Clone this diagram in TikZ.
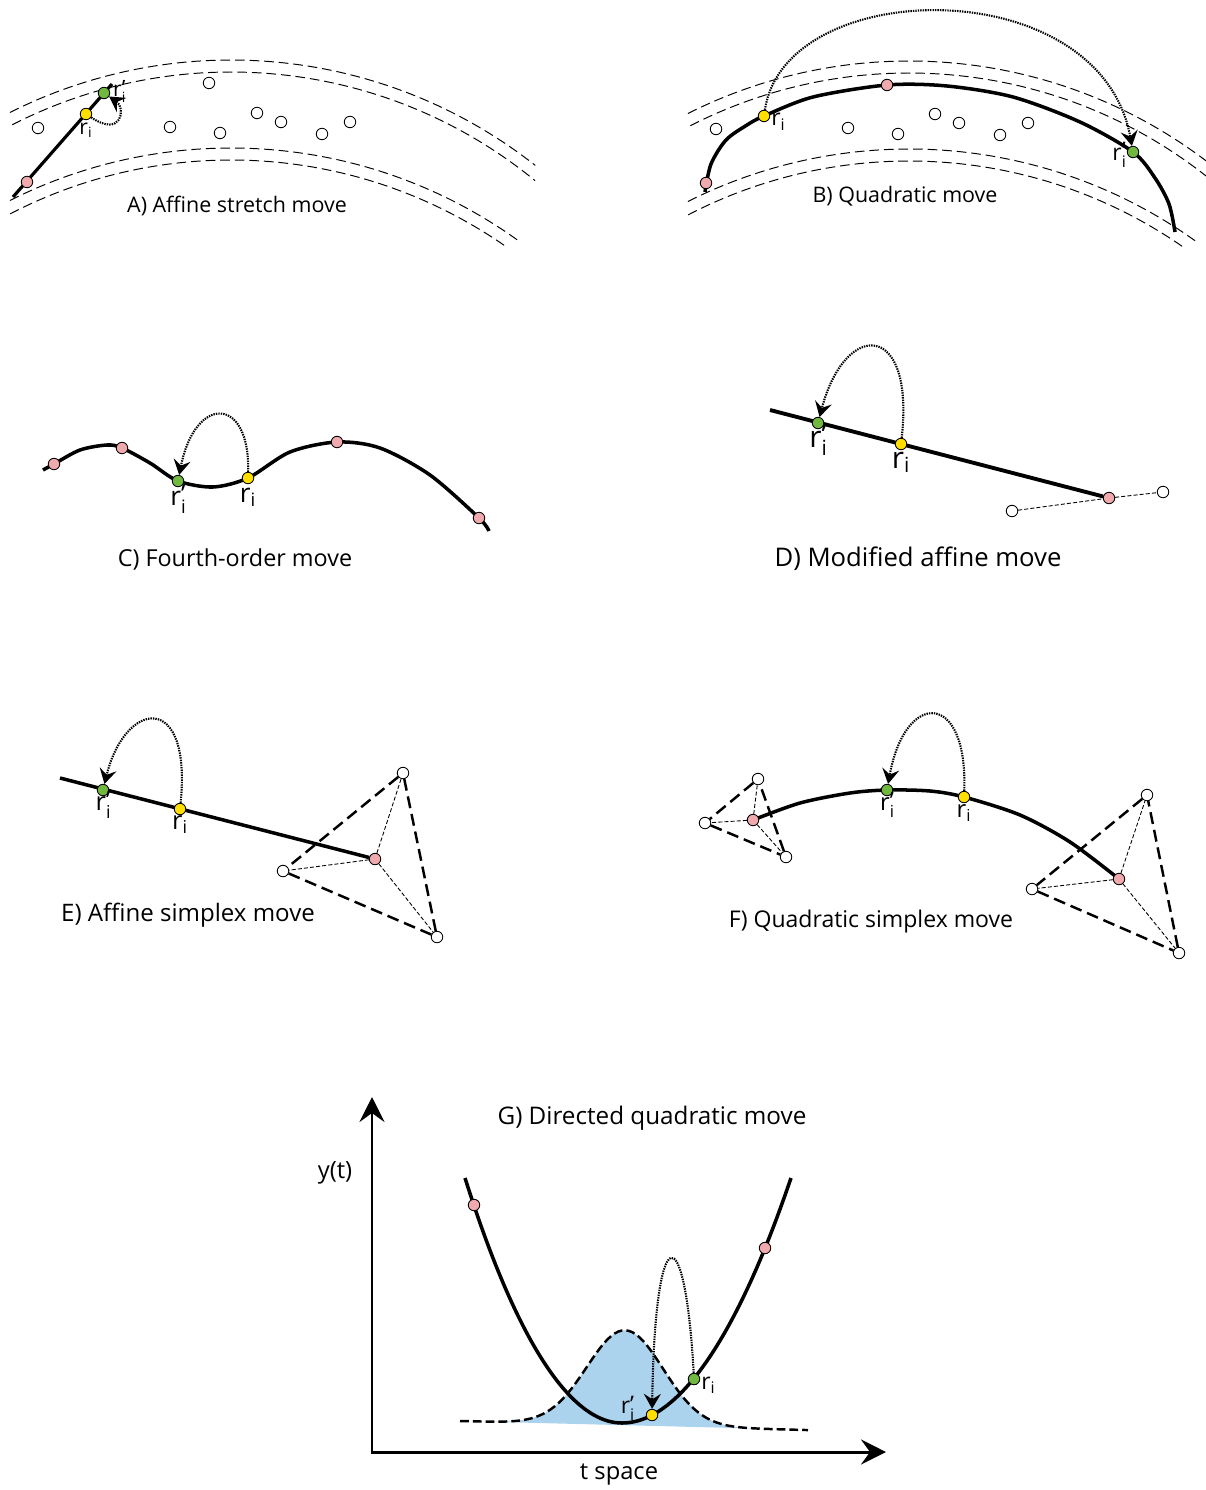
\documentclass[tikz,border=0pt]{standalone}
\usepackage{fontspec}
\setmainfont{Open Sans}
\usetikzlibrary{arrows.meta,positioning}
\definecolor{DotPink}{RGB}{240,170,174}
\definecolor{DotGreen}{RGB}{112,184,62}
\definecolor{DotYellow}{RGB}{255,222,0}
\definecolor{DensityBlue}{RGB}{172,211,238}
\newcommand{\ri}{r\textsubscript{i}}
\newcommand{\rip}{r\rlap{\raisebox{-0.12em}{\textsubscript{i}}}\raisebox{0.06em}{’}}
\tikzset{
  walker/.style={circle,draw=black,line width=0.5pt,inner sep=0pt,minimum size=0.23cm},
  opendot/.style={walker,fill=white},
  pinkdot/.style={walker,fill=DotPink},
  greendot/.style={walker,fill=DotGreen},
  yellowdot/.style={walker,fill=DotYellow},
  track/.style={line width=2pt},
  bandline/.style={line width=0.55pt,dash pattern=on 5.5pt off 2.8pt},
  simplexedge/.style={line width=1.4pt,dash pattern=on 6.8pt off 3.4pt},
  spoke/.style={line width=0.5pt,dash pattern=on 2.3pt off 1.2pt},
  bumpline/.style={line width=1.4pt,dash pattern=on 5pt off 2.3pt},
  jump/.style={line width=1.2pt,dash pattern=on 0.8pt off 0.6pt,
    -{Stealth[length=3mm,width=3.4mm,inset=1.1mm]}},
  axis/.style={line width=1.7pt,
    {Stealth[length=5mm,width=5mm,inset=1.8mm]}-{Stealth[length=5mm,width=5mm,inset=1.8mm]}},
  caption/.style={font=\fontsize{#1}{#1}\selectfont,inner sep=0pt},
  rlabel/.style={font=\fontsize{#1}{#1}\selectfont,inner sep=0.5pt,
    text height=0.75em,text depth=0.3em},
}

\begin{document}
\begin{tikzpicture}[x=0.02cm,y=-0.02cm]
  \useasboundingbox (0,0) rectangle (1206,1490);

  % A and B: bands with the free walkers
  \foreach \dx/\dy in {0/0,678/1}{
    \begin{scope}[shift={(\dx,\dy)}]
      \draw[bandline] plot[domain=-116.7:-51.8,samples=70] ({231+492*cos(\x)},{552+492*sin(\x)});
      \draw[bandline] plot[domain=-117.1:-50.7,samples=70] ({231+480*cos(\x)},{552+480*sin(\x)});
      \draw[bandline] plot[domain=-116.7:-54.0,samples=70] ({231+492*cos(\x)},{640+492*sin(\x)});
      \draw[bandline] plot[domain=-117.4:-54.9,samples=70] ({231+480*cos(\x)},{640+480*sin(\x)});
      \foreach \px/\py [count=\n] in {38/128,170/127,220/133,257/113,281/122,322/134,350/122}
        \node[opendot] (free\dx-\n) at (\px,\py) {};
    \end{scope}
  }

  % A) affine stretch
  \coordinate (aStart) at (13,197);
  \coordinate (aEnd) at (112,84);
  \draw[track,line width=1.8pt] (aStart) -- (aEnd);
  \node[pinkdot] (aFix) at (27,182) {};
  \node[yellowdot] (aOld) at (86,114) {};
  \node[greendot] (aNew) at (104,93) {};
  \node[opendot] (aFree) at (209,83) {};
  \draw[jump] (aOld) .. controls (122,138) and (126,108) .. (aNew);
  \node[rlabel=12,below=0pt of aOld] (aOldLbl) {\ri};
  \node[rlabel=12,right=1pt of aNew] (aNewLbl) {\rip};
  \node[caption=12.2] (aCap) at (237,206) {A) Affine stretch move};

  % B) quadratic
  \draw[track] plot[smooth] coordinates {(705,192) (711,164) (726,140) (747,125) (764,116)
    (813,97) (887,85) (947,86) (1013,97) (1080,122) (1133,152) (1155,178) (1169,204) (1175,232)};
  \node[pinkdot] (bFixL) at (706,183) {};
  \node[yellowdot] (bOld) at (764,116) {};
  \node[pinkdot] (bFixT) at (887,85) {};
  \node[greendot] (bNew) at (1133,152) {};
  \draw[jump] (bOld) .. controls (785,-25) and (1100,-30) .. (bNew);
  \node[rlabel=13,below right=-5pt and 1pt of bOld] (bOldLbl) {\ri};
  \node[rlabel=13,below left=-6pt and 1pt of bNew] (bNewLbl) {\rip};
  \node[caption=12.2] (bCap) at (905,196) {B) Quadratic move};

  % C) fourth-order
  \draw[track] plot[smooth] coordinates {(43,470) (54,464) (80,450) (107,445) (122,448)
    (150,463) (178,481) (213,487) (248,478) (290,452) (337,442) (380,448) (430,475) (479,518) (489,531)};
  \node[pinkdot] (cFix1) at (54,464) {};
  \node[pinkdot] (cFix2) at (122,448) {};
  \node[greendot] (cNew) at (178,481) {};
  \node[yellowdot] (cOld) at (248,478) {};
  \node[pinkdot] (cFix3) at (337,442) {};
  \node[pinkdot] (cFix4) at (479,518) {};
  \draw[jump] (cOld) .. controls (250,395) and (195,395) .. (cNew);
  \node[rlabel=15,below=2pt of cNew] (cNewLbl) {\rip};
  \node[rlabel=15,below=2pt of cOld] (cOldLbl) {\ri};
  \node[caption=13.3] (cCap) at (235,559) {C) Fourth-order move};

  % D) modified affine
  \coordinate (dStart) at (770,410);
  \node[opendot] (dFreeL) at (1012,511) {};
  \node[opendot] (dFreeR) at (1163,492) {};
  \node[pinkdot] (dFix) at (1109,498) {};
  \draw[track,line width=2.2pt] (dStart) -- (dFix);
  \draw[spoke] (dFreeL) -- (dFix) -- (dFreeR);
  \node[greendot] (dNew) at (818,423) {};
  \node[yellowdot] (dOld) at (901,444) {};
  \draw[jump] (dOld) .. controls (915,320) and (845,320) .. (dNew);
  \node[rlabel=17,below=2pt of dNew] (dNewLbl) {\rip};
  \node[rlabel=17,below=2pt of dOld] (dOldLbl) {\ri};
  \node[caption=14.6] (dCap) at (918,559) {D) Modified affine move};

  % E) affine simplex
  \coordinate (eStart) at (60,778);
  \node[opendot] (eTop) at (403,773) {};
  \node[opendot] (eLeft) at (283,871) {};
  \node[opendot] (eBot) at (437,937) {};
  \node[pinkdot] (eFix) at (375,859) {};
  \draw[simplexedge] (eTop) -- (eLeft) -- (eBot) -- (eTop);
  \draw[spoke] (eFix) -- (eTop) (eFix) -- (eLeft) (eFix) -- (eBot);
  \draw[track] (eStart) -- (eFix);
  \node[greendot] (eNew) at (103,790) {};
  \node[yellowdot] (eOld) at (180,809) {};
  \draw[jump] (eOld) .. controls (192,690) and (125,700) .. (eNew);
  \node[rlabel=14.5,below=0pt of eNew] (eNewLbl) {\rip};
  \node[rlabel=14.5,below=0pt of eOld] (eOldLbl) {\ri};
  \node[caption=13.7] (eCap) at (188,915) {E) Affine simplex move};

  % F) quadratic simplex
  \node[opendot] (fTopL) at (758,779) {};
  \node[opendot] (fLeftL) at (705,823) {};
  \node[opendot] (fBotL) at (786,857) {};
  \node[opendot] (fTopR) at (1147,795) {};
  \node[opendot] (fLeftR) at (1032,889) {};
  \node[opendot] (fBotR) at (1179,953) {};
  \draw[simplexedge] (fTopL) -- (fLeftL) -- (fBotL) -- (fTopL);
  \draw[simplexedge] (fTopR) -- (fLeftR) -- (fBotR) -- (fTopR);
  \draw[spoke] (753,820) -- (fTopL) (753,820) -- (fLeftL) (753,820) -- (fBotL);
  \draw[spoke] (1119,879) -- (fTopR) (1119,879) -- (fLeftR) (1119,879) -- (fBotR);
  \draw[track] plot[smooth] coordinates {(753,820) (800,803) (850,793) (887,790) (930,791)
    (964,797) (1020,815) (1070,842) (1119,879)};
  \node[pinkdot] (fFixL) at (753,820) {};
  \node[pinkdot] (fFixR) at (1119,879) {};
  \node[greendot] (fNew) at (887,790) {};
  \node[yellowdot] (fOld) at (964,797) {};
  \draw[jump] (fOld) .. controls (968,690) and (905,690) .. (fNew);
  \node[rlabel=13.5,below=0pt of fNew] (fNewLbl) {\rip};
  \node[rlabel=13.5,below=0pt of fOld] (fOldLbl) {\ri};
  \node[caption=13.1] (fCap) at (871,922) {F) Quadratic simplex move};

  % G) directed quadratic
  \coordinate (origin) at (372,1452);
  \coordinate (yTip) at (372,1097);
  \coordinate (tTip) at (886,1452);
  \draw[axis] (yTip) -- (origin) -- (tTip);
  \fill[DensityBlue] plot[domain=460:760,samples=90]
    (\x,{1421+0.026*(\x-460)-95*exp(-0.5*((\x-625)/38)^2)}) -- cycle;
  \draw[track] (465,1178) parabola bend (622,1423) (791,1178);
  \draw[bumpline] plot[domain=460:808,samples=100]
    (\x,{1421+0.026*(\x-460)-95*exp(-0.5*((\x-625)/38)^2)});
  \node[pinkdot] (gFixL) at (474,1205) {};
  \node[pinkdot] (gFixR) at (765,1248) {};
  \node[greendot] (gOld) at (694,1379) {};
  \node[yellowdot] (gNew) at (652,1415) {};
  \draw[jump] (gOld) .. controls (685,1215) and (655,1215) .. (gNew);
  \node[rlabel=13,below right=-5pt and 1pt of gOld] (gOldLbl) {\ri};
  \node[rlabel=13,left=6pt of gNew,yshift=3pt] (gNewLbl) {\rip};
  \node[caption=13.8] (gCap) at (652,1118) {G) Directed quadratic move};
  \node[caption=13.5] (yLbl) at (335,1173) {y(t)};
  \node[caption=13.5] (tLbl) at (619,1475) {t space};
\end{tikzpicture}
\end{document}
